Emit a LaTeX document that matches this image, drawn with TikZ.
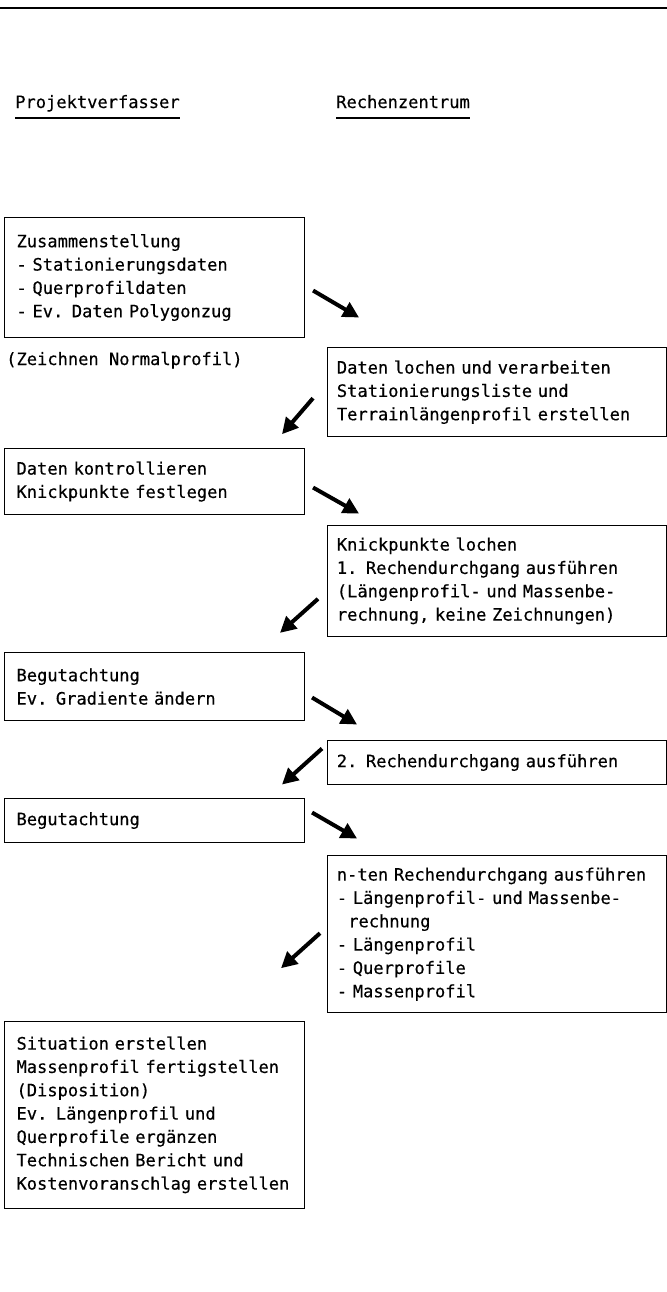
\documentclass[tikz,border=0pt]{standalone}
\usepackage{fontspec}
\setmonofont[FakeBold=0.4]{DejaVu Sans Mono}
\usetikzlibrary{arrows.meta}
\begin{document}
\begin{tikzpicture}[x=0.75pt,y=-0.75pt,font=\ttfamily\fontsize{12.8}{17.5}\selectfont]
	\tikzstyle{lbox}=[draw=black,line width=0.8pt,anchor=north west,align=left,text width=207pt,inner xsep=9pt,inner ysep=0pt]
	\tikzstyle{rbox}=[lbox,text width=240pt,inner xsep=7pt]
	\tikzstyle{head}=[anchor=base west,inner sep=0pt]
	\tikzstyle{flow}=[line width=3pt,-{Triangle[length=12pt,width=12pt]}]
	\useasboundingbox (0,0) rectangle (667,1292);
	\draw[line width=1.1pt] (0,8) -- (667,8);
	% Spalten
	\node[head] (pv) at (15,108)  {Projektverfasser};
	\node[head] (rz) at (336,108) {Rechenzentrum};
	\draw[line width=0.8pt] ([yshift=-7.5pt]pv.base west) -- ([yshift=-7.5pt]pv.base east);
	\draw[line width=0.8pt] ([yshift=-7.5pt]rz.base west) -- ([yshift=-7.5pt]rz.base east);
	% Kaesten
	\node[lbox,minimum height=90pt]   (b1) at (4,217)   {Zusammenstellung\\- Stationierungsdaten\\- Querprofildaten\\- Ev. Daten Polygonzug};
	\node[head]                       (zn) at (6,365)   {(Zeichnen Normalprofil)};
	\node[rbox,minimum height=67pt]   (b2) at (327,347) {Daten lochen und verarbeiten\\Stationierungsliste und\\Terrainlängenprofil erstellen};
	\node[lbox,minimum height=49.5pt] (b3) at (4,448)   {Daten kontrollieren\\Knickpunkte festlegen};
	\node[rbox,minimum height=83pt]   (b4) at (327,525) {Knickpunkte lochen\\1. Rechendurchgang ausführen\\(Längenprofil- und Massenbe-\\rechnung, keine Zeichnungen)};
	\node[lbox,minimum height=51pt]   (b5) at (4,652)   {Begutachtung\\Ev. Gradiente ändern};
	\node[rbox,minimum height=33pt]   (b6) at (327,740) {2. Rechendurchgang ausführen};
	\node[lbox,minimum height=33pt]   (b7) at (4,798)   {Begutachtung};
	\node[rbox,minimum height=118pt]  (b8) at (327,855) {n-ten Rechendurchgang ausführen\\- Längenprofil- und Massenbe-\\\ \ rechnung\\- Längenprofil\\- Querprofile\\- Massenprofil};
	\node[lbox,minimum height=140pt]  (b9) at (4,1021)  {Situation erstellen\\Massenprofil fertigstellen\\(Disposition)\\Ev. Längenprofil und\\Querprofile ergänzen\\Technischen Bericht und\\Kostenvoranschlag erstellen};
	% Pfeile
	\draw[flow] ([shift={(8,13)}]b1.east)   -- ++(46,27);
	\draw[flow] ([shift={(-14,6)}]b2.west)  -- ++(-31,36);
	\draw[flow] ([shift={(8,6)}]b3.east)    -- ++(46,26);
	\draw[flow] ([shift={(-9,18)}]b4.west)  -- ++(-38,34);
	\draw[flow] ([shift={(7,11)}]b5.east)   -- ++(45,27);
	\draw[flow] ([shift={(-5,-14)}]b6.west) -- ++(-40,36);
	\draw[flow] ([shift={(7,-8)}]b7.east)   -- ++(45,26);
	\draw[flow] ([shift={(-7,-1)}]b8.west)  -- ++(-39,35);
\end{tikzpicture}
\end{document}
